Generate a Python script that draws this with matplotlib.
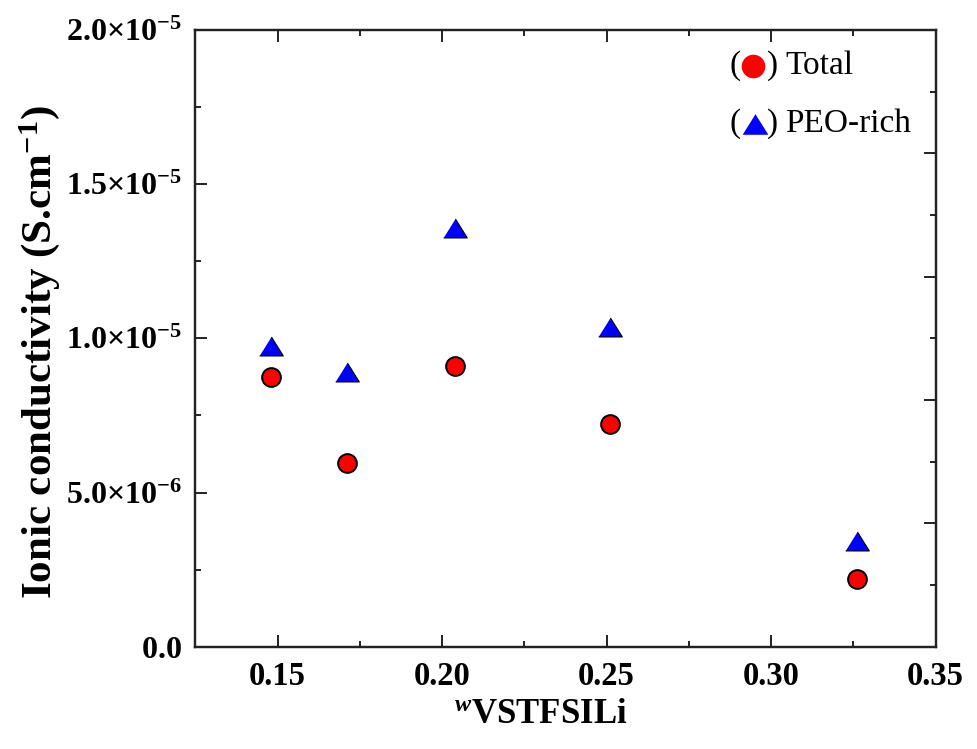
import numpy as np
import matplotlib
matplotlib.use("Agg")
import matplotlib.pyplot as plt
from matplotlib.ticker import MultipleLocator, FuncFormatter

# data
w_vstfsili = [0.148, 0.171, 0.204, 0.251, 0.326]
sigma_total = [8.76e-6, 5.95e-6, 9.11e-6, 7.22e-6, 2.19e-6]
sigma_peo = [9.76e-6, 8.90e-6, 1.359e-5, 1.037e-5, 3.42e-6]

plt.rcParams['font.family'] = ['Liberation Serif', 'DejaVu Serif']
plt.rcParams['mathtext.fontset'] = 'custom'
plt.rcParams['mathtext.rm'] = 'Liberation Serif'
plt.rcParams['mathtext.bf'] = 'Liberation Serif:bold'
plt.rcParams['mathtext.it'] = 'Liberation Serif:bold:italic'

fig = plt.figure(figsize=(9.77, 7.49), dpi=100)
ax = fig.add_axes([0.1999, 0.1366, 0.7578, 0.8234])

tri = [(-1, -0.8), (1, -0.8), (0, 0.8)]
ax.plot(w_vstfsili, sigma_peo, linestyle='none', marker=tri, markersize=17,
        markerfacecolor='#0000ff', markeredgecolor='black', markeredgewidth=0.8)
ax.plot(w_vstfsili, sigma_total, linestyle='none', marker='o', markersize=13.5,
        markerfacecolor='#ff0000', markeredgecolor='black', markeredgewidth=1.4)

ax.set_xlim(0.125, 0.35)
ax.set_ylim(0, 2e-5)

ax.xaxis.set_major_locator(MultipleLocator(0.05))
ax.xaxis.set_minor_locator(MultipleLocator(0.025))
ax.yaxis.set_major_locator(MultipleLocator(5e-6))
ax.yaxis.set_minor_locator(MultipleLocator(2.5e-6))


def sci(v, pos):
    if abs(v) < 1e-12:
        return r'$\mathbf{0.0}$'
    e = int(np.floor(np.log10(abs(v))))
    m = v / 10 ** e
    return r'$\mathbf{%.1f{\times}10^{%d}}$' % (m, e)


ax.yaxis.set_major_formatter(FuncFormatter(sci))
ax.xaxis.set_major_formatter(FuncFormatter(lambda v, p: '%.2f' % v))

ax.tick_params(which='both', direction='in', width=1.4, colors='#222222',
               labelcolor='black', top=True, right=False)
ax.tick_params(which='major', length=8.5)
ax.tick_params(which='minor', length=4.3)
ax.tick_params(axis='x', labelsize=23.5, pad=10)
ax.tick_params(axis='y', labelsize=23, pad=10)
for lab in ax.get_xticklabels():
    lab.set_fontweight('bold')

# right axis has its own tick spacing
ax2 = ax.twinx()
ax2.set_ylim(0, 2e-5)
ax2.yaxis.set_major_locator(MultipleLocator(4e-6))
ax2.yaxis.set_minor_locator(MultipleLocator(2e-6))
ax2.tick_params(which='both', direction='in', width=1.4, colors='#222222',
                labelright=False)
ax2.tick_params(which='major', length=8.5)
ax2.tick_params(which='minor', length=4.3)

for a in (ax, ax2):
    for s in a.spines.values():
        s.set_linewidth(1.6)
        s.set_color('#222222')

ax.set_xlabel(r'$^{w}$VSTFSILi', fontsize=25, fontweight='bold')
ax.xaxis.set_label_coords(0.467, -0.084)
ax.set_ylabel(r'Ionic conductivity (S.cm$^{\mathbf{-1}}$)', fontsize=31,
              fontweight='bold')
ax.yaxis.set_label_coords(-0.18, 0.477)

# legend drawn by hand: "(marker) label"
def px(x, y):
    return ((x - 195.3) / 740.4, (646.7 - y) / 616.7)

rows = [('Total', 'o', '#ff0000', 66, 753, 17),
        ('PEO-rich', tri, '#0000ff', 124, 755, 18.5)]
for label, mk, col, yy, mx, ms in rows:
    ax.text(*px(730, yy), '(', transform=ax.transAxes, fontsize=24,
            ha='left', va='center')
    ax.plot(*px(mx, yy), transform=ax.transAxes, marker=mk, markersize=ms,
            color=col, markeredgewidth=0, linestyle='none', clip_on=False)
    ax.text(*px(767, yy), ')', transform=ax.transAxes, fontsize=24,
            ha='left', va='center')
    ax.text(*px(785, yy), label, transform=ax.transAxes, fontsize=24,
            ha='left', va='center')

fig.savefig('out.png', dpi=100)
